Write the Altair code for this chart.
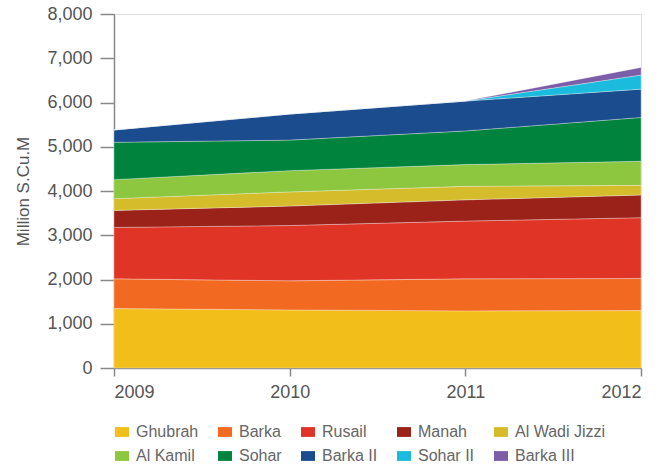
import altair as alt
import pandas as pd

# Annual gas consumption by power plant (Million S.Cu.M)
years = [2009, 2010, 2011, 2012]
plants = ["Ghubrah", "Barka", "Rusail", "Manah", "Al Wadi Jizzi",
          "Al Kamil", "Sohar", "Barka II", "Sohar II", "Barka III"]
ghubrah = [1343, 1313, 1290, 1298]
barka = [672, 657, 725, 724]
rusail = [1162, 1250, 1305, 1375]
manah = [385, 440, 480, 512]
al_wadi_jizzi = [265, 320, 305, 219]
al_kamil = [430, 480, 492, 544]
sohar = [843, 690, 760, 989]
barka_ii = [280, 590, 675, 641]
sohar_ii = [0, 0, 0, 317]
barka_iii = [0, 0, 0, 174]
colors = ["#F2BE1A", "#F26A21", "#E03526", "#9A2219", "#D4BC2A",
          "#8DC63F", "#00843D", "#1B4D8E", "#1ABBDC", "#7B5EA7"]

series = [ghubrah, barka, rusail, manah, al_wadi_jizzi,
          al_kamil, sohar, barka_ii, sohar_ii, barka_iii]

rows = []
for idx, (name, vals) in enumerate(zip(plants, series)):
    for year, v in zip(years, vals):
        rows.append({"year": year, "plant": name, "value": v, "idx": idx})
df = pd.DataFrame(rows)

FONT = "Liberation Sans"

chart = alt.Chart(df).mark_area(
    stroke="white", strokeWidth=0.6, strokeOpacity=0.5
).encode(
    x=alt.X("year:Q",
            scale=alt.Scale(domain=[2009, 2012], nice=False, zero=False),
            axis=alt.Axis(values=years, format="d", title=None, grid=False,
                          tickSize=8, labelPadding=7, labelFontSize=18,
                          labelColor="#555", labelFont=FONT,
                          domainColor="#888", tickColor="#888",
                          domainWidth=1.5, tickWidth=1.5)),
    y=alt.Y("value:Q", stack="zero",
            scale=alt.Scale(domain=[0, 8000], nice=False),
            axis=alt.Axis(values=list(range(0, 8001, 1000)), format=",d",
                          title="Million S.Cu.M", grid=False,
                          tickSize=14, labelPadding=8, labelFontSize=18,
                          labelColor="#555", labelFont=FONT,
                          titleFontSize=17, titleFontWeight="normal",
                          titleColor="#555", titleFont=FONT, titlePadding=14,
                          domainColor="#888", tickColor="#888",
                          domainWidth=1.5, tickWidth=1.5)),
    color=alt.Color("plant:N",
                    scale=alt.Scale(domain=plants, range=colors),
                    legend=alt.Legend(
                        title=None, orient="none", legendX=0, legendY=410,
                        columns=5, direction="horizontal",
                        symbolType="M-1,-0.7L1,-0.7L1,0.7L-1,0.7Z",
                        symbolSize=196, symbolStrokeWidth=0,
                        labelFontSize=16, labelColor="#666", labelFont=FONT,
                        labelOffset=6, columnPadding=18, rowPadding=8,
                        padding=0)),
    order=alt.Order("idx:Q", sort="ascending"),
).properties(
    width=527, height=354,
    autosize=alt.AutoSizeParams(type="none"),
    padding={"left": 114, "top": 14, "right": 23, "bottom": 97},
).configure_view(stroke=None).configure(background="white")

chart.save("out.html", embed_options={"renderer": "svg", "actions": False})
